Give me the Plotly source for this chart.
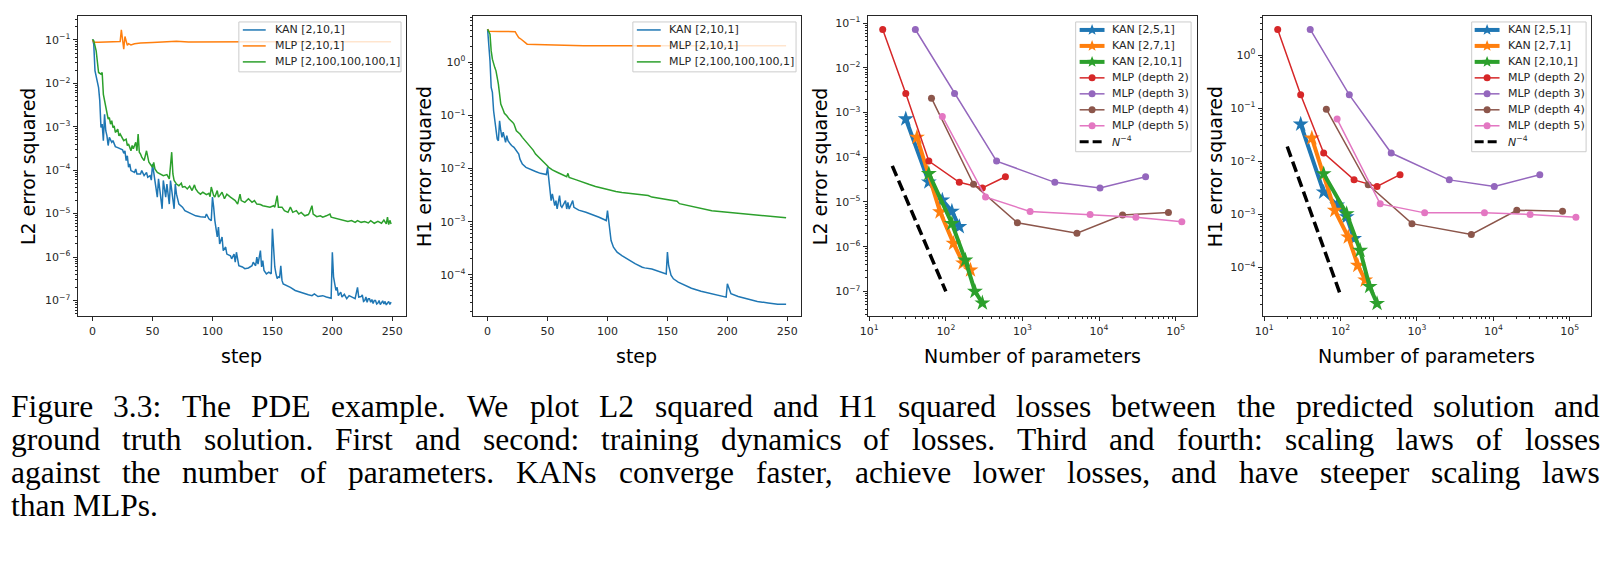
import plotly.graph_objects as go

# ---------------- data ----------------
# Panel 1: L2 error squared vs training step
l2_kan_steps = [0, 1, 2, 4, 5, 6, 7, 8, 9, 10, 11, 12, 13, 14, 16, 17, 19, 21, 23, 25, 26, 27, 28, 29, 30,
                31, 32, 35, 36, 37, 40, 41, 43, 45, 46, 48, 49, 50, 51, 53, 54, 55, 57, 58, 59, 61, 62, 64,
                65, 67, 68, 69, 70, 72, 75, 77, 82, 86, 90, 94, 95, 97, 99, 100, 101, 102, 104, 105, 106,
                108, 109, 111, 112, 115, 116, 118, 119, 120, 122, 125, 127, 130, 133, 134, 136, 137, 138,
                140, 141, 142, 143, 145, 147, 149, 150, 151, 152, 153, 154, 155, 156, 157, 158, 159, 162,
                165, 169, 173, 177, 180, 183, 185, 188, 192, 195, 199, 200, 201, 202, 203, 204, 205, 207,
                208, 210, 212, 214, 217, 219, 221, 222, 224, 225, 226, 227, 228, 229, 230, 231, 232, 233,
                234, 235, 236, 237, 238, 239, 240, 241, 242, 243, 244, 245, 246, 247, 248, 249]
l2_kan = [0.103, 0.079, 0.0195, 0.0114, 0.0080, 0.0040, 9.6e-4, 1.15e-3, 4.8e-4, 1.95e-3, 8.1e-4, 6.2e-4,
          3.7e-4, 5.7e-4, 4.4e-4, 4.8e-4, 3.5e-4, 3.3e-4, 3.1e-4, 2.95e-4, 2.45e-4, 2.8e-4, 1.66e-4,
          2.15e-4, 1.17e-4, 1.39e-4, 9.8e-5, 8.9e-5, 1.07e-4, 8.2e-5, 8.2e-5, 9.8e-5, 7.5e-5, 8.9e-5,
          6.9e-5, 7.5e-5, 5.9e-5, 1.39e-4, 8.9e-5, 4.1e-5, 2.4e-5, 6.3e-5, 2.0e-5, 1.29e-5, 5.8e-5,
          2.4e-5, 4.8e-5, 1.66e-5, 5.8e-5, 2.0e-5, 1.29e-5, 4.8e-5, 2.8e-5, 1.66e-5, 1.41e-5, 1.17e-5,
          1.02e-5, 8.9e-6, 8.5e-6, 8.3e-6, 9.8e-6, 7.6e-6, 6.9e-6, 2.4e-5, 1.41e-5, 6.9e-6, 2.9e-6,
          4.9e-6, 2.0e-6, 2.9e-6, 1.41e-6, 1.70e-6, 1.17e-6, 1.07e-6, 9.1e-7, 1.17e-6, 7.6e-7, 1.29e-6,
          6.3e-7, 5.9e-7, 5.4e-7, 5.6e-7, 6.3e-7, 7.6e-7, 6.3e-7, 1.0e-6, 6.9e-7, 1.41e-6, 5.9e-7,
          8.3e-7, 4.9e-7, 4.1e-7, 4.5e-7, 4.1e-7, 4.5e-6, 1.17e-6, 5.9e-7, 4.1e-7, 3.2e-7, 3.5e-7,
          3.4e-7, 6.3e-7, 2.9e-7, 2.4e-7, 2.2e-7, 2.0e-7, 1.70e-7, 1.55e-7, 1.41e-7, 1.35e-7, 1.29e-7,
          1.41e-7, 1.23e-7, 1.29e-7, 1.20e-7, 1.12e-7, 1.29e-6, 3.5e-7, 2.4e-7, 1.70e-7, 2.0e-7,
          1.29e-7, 1.55e-7, 1.20e-7, 1.38e-7, 1.10e-7, 1.29e-7, 1.20e-7, 1.10e-7, 2.0e-7, 1.20e-7,
          1.23e-7, 1.35e-7, 9.5e-8, 1.0e-7, 1.2e-7, 9.1e-8, 1.10e-7, 1.1e-7, 9.1e-8, 1.05e-7, 8.5e-8,
          1.0e-7, 1.0e-7, 8.3e-8, 8.7e-8, 1.0e-7, 8.0e-8, 9.1e-8, 9.8e-8, 8.3e-8, 9.5e-8, 7.9e-8,
          8.7e-8, 9.5e-8, 8.1e-8, 9.1e-8]

l2_mlp_small_steps = [0, 1, 5, 10, 15, 20, 23, 24, 25, 26, 27, 28, 29, 30, 32, 35, 40, 50, 60, 70, 80, 100,
                      130, 160, 200, 249]
l2_mlp_small = [0.10, 0.088, 0.089, 0.090, 0.090, 0.091, 0.092, 0.17, 0.09, 0.061, 0.12, 0.095, 0.075,
                0.082, 0.077, 0.082, 0.085, 0.087, 0.089, 0.093, 0.090, 0.091, 0.091, 0.091, 0.091, 0.091]

l2_mlp_big_steps = [0, 1, 3, 4, 5, 7, 8, 9, 10, 11, 12, 13, 14, 15, 16, 17, 18, 19, 21, 22, 23, 25, 26, 28,
                    29, 30, 32, 33, 34, 36, 37, 38, 39, 40, 41, 43, 44, 45, 47, 48, 50, 51, 52, 54, 57, 59,
                    62, 64, 66, 67, 68, 70, 72, 74, 75, 77, 79, 81, 83, 85, 86, 88, 90, 92, 95, 97, 98, 99,
                    101, 102, 104, 105, 106, 108, 110, 112, 115, 117, 119, 120, 121, 123, 124, 127, 130,
                    133, 135, 137, 140, 142, 145, 148, 151, 152, 154, 155, 158, 160, 163, 165, 167, 170,
                    172, 174, 177, 180, 181, 183, 184, 187, 190, 192, 195, 198, 199, 202, 205, 207, 210,
                    213, 216, 219, 221, 224, 227, 230, 232, 235, 238, 241, 243, 245, 246, 247, 248, 249]
l2_mlp_big = [0.103, 0.095, 0.056, 0.033, 0.0178, 0.0163, 0.0178, 0.0056, 0.0040, 0.00278, 0.00195,
              0.00151, 0.00163, 0.00115, 0.00138, 9.6e-4, 1.05e-3, 7.4e-4, 8.8e-4, 6.2e-4, 6.8e-4, 5.2e-4,
              4.8e-4, 5.2e-4, 3.7e-4, 4.0e-4, 2.8e-4, 3.7e-4, 3.1e-4, 4.4e-4, 2.8e-4, 6.8e-4, 2.6e-4,
              2.35e-4, 2.0e-4, 1.66e-4, 2.15e-4, 2.8e-4, 1.52e-4, 1.39e-4, 1.17e-4, 1.52e-4, 1.07e-4,
              8.9e-5, 8.2e-5, 7.5e-5, 7.9e-5, 6.3e-5, 2.6e-4, 8.2e-5, 5.8e-5, 4.8e-5, 4.4e-5, 5.0e-5,
              4.1e-5, 4.2e-5, 3.7e-5, 4.3e-5, 3.4e-5, 4.6e-5, 3.7e-5, 3.1e-5, 2.8e-5, 3.1e-5, 2.75e-5,
              2.95e-5, 2.45e-5, 4.1e-5, 2.6e-5, 2.4e-5, 3.4e-5, 2.4e-5, 2.6e-5, 3.1e-5, 2.2e-5, 2.8e-5,
              2.4e-5, 2.2e-5, 2.0e-5, 1.82e-5, 1.66e-5, 2.8e-5, 2.0e-5, 1.82e-5, 2.2e-5, 1.82e-5, 2.0e-5,
              1.66e-5, 1.62e-5, 1.52e-5, 1.45e-5, 1.41e-5, 1.52e-5, 1.41e-5, 2.6e-5, 1.41e-5, 1.41e-5,
              1.17e-5, 1.07e-5, 1.41e-5, 1.07e-5, 1.17e-5, 9.8e-6, 1.07e-5, 8.9e-6, 9.5e-6, 1.07e-5,
              1.52e-5, 9.8e-6, 8.5e-6, 8.9e-6, 8.3e-6, 8.9e-6, 9.8e-6, 8.3e-6, 7.9e-6, 7.6e-6, 7.3e-6,
              6.9e-6, 6.6e-6, 6.9e-6, 6.3e-6, 6.9e-6, 6.3e-6, 6.6e-6, 6.1e-6, 6.9e-6, 6.0e-6, 6.6e-6,
              6.0e-6, 7.1e-6, 5.8e-6, 8.3e-6, 5.6e-6, 7.0e-6, 5.8e-6]

# Panel 2: H1 error squared vs training step
h1_kan_steps = [0, 2, 3, 4, 5, 7, 8, 9, 10, 11, 12, 13, 15, 16, 17, 19, 20, 22, 23, 25, 26, 27, 29, 32, 36,
                40, 44, 49, 50, 51, 52, 53, 54, 55, 56, 57, 58, 60, 61, 62, 64, 65, 66, 67, 68, 70, 71, 72,
                76, 82, 87, 93, 99, 100, 101, 102, 103, 105, 108, 112, 118, 123, 129, 131, 137, 140, 144,
                149, 150, 151, 153, 155, 159, 165, 170, 178, 187, 195, 199, 200, 202, 203, 209, 217, 225,
                234, 242, 249]
h1_kan = [4.17, 1.06, 0.334, 0.27, 0.122, 0.0513, 0.036, 0.0333, 0.079, 0.0513, 0.0385, 0.048, 0.031,
          0.0415, 0.0333, 0.0288, 0.027, 0.025, 0.023, 0.020, 0.0187, 0.015, 0.0121, 0.0105, 0.0095,
          0.0088, 0.0081, 0.0077, 0.0105, 0.0068, 0.00384, 0.00249, 0.00332, 0.0023, 0.0020, 0.00249,
          0.00173, 0.0031, 0.0020, 0.00186, 0.0023, 0.00249, 0.00173, 0.0023, 0.00173, 0.0023, 0.00249,
          0.00186, 0.00165, 0.0015, 0.00137, 0.00121, 0.00105, 0.00161, 0.00105, 6.8e-4, 4.4e-4, 3.3e-4,
          2.67e-4, 2.3e-4, 1.86e-4, 1.62e-4, 1.39e-4, 1.35e-4, 1.29e-4, 1.22e-4, 1.17e-4, 1.04e-4,
          2.67e-4, 1.5e-4, 9.8e-5, 8.4e-5, 7.3e-5, 6.3e-5, 5.6e-5, 4.9e-5, 4.4e-5, 4.0e-5, 3.8e-5,
          6.8e-5, 4.9e-5, 4.4e-5, 3.9e-5, 3.5e-5, 3.16e-5, 2.95e-5, 2.8e-5, 2.78e-5]

h1_mlp_small_steps = [0, 1, 10, 20, 23, 24, 26, 28, 30, 33, 40, 57, 77, 80, 120, 249]
h1_mlp_small = [4.17, 3.8, 3.77, 3.77, 3.75, 3.4, 2.9, 2.7, 2.45, 2.18, 2.16, 2.12, 2.10, 2.04, 2.03, 2.03]

h1_mlp_big_steps = [0, 2, 3, 4, 6, 7, 9, 10, 11, 13, 14, 16, 18, 21, 22, 24, 27, 29, 32, 35, 38, 40, 43, 46,
                    49, 51, 54, 58, 62, 66, 67, 68, 74, 79, 85, 90, 96, 101, 107, 112, 118, 123, 129, 134,
                    137, 148, 158, 160, 173, 187, 200, 214, 228, 239, 249]
h1_mlp_big = [4.17, 3.36, 1.63, 1.14, 0.79, 0.687, 0.386, 0.233, 0.163, 0.126, 0.109, 0.098, 0.085, 0.0736,
              0.0685, 0.0513, 0.0445, 0.0385, 0.0324, 0.0268, 0.0222, 0.0187, 0.0162, 0.014, 0.0118,
              0.0105, 0.0094, 0.0085, 0.0077, 0.0070, 0.0081, 0.0068, 0.0061, 0.0055, 0.0050, 0.0046,
              0.00425, 0.00395, 0.0037, 0.00355, 0.00342, 0.0034, 0.00325, 0.0031, 0.0029, 0.0026,
              0.00242, 0.00218, 0.00186, 0.00161, 0.0015, 0.0014, 0.0013, 0.00125, 0.00118]

# Panels 3 and 4: loss vs number of parameters
kan251_n = [30, 60, 90, 120, 150]
kan251_l2 = [7.2e-4, 2.8e-5, 1.1e-5, 6.2e-6, 2.8e-6]
kan251_h1 = [0.05, 2.63e-3, 1.5e-3, 9.0e-4, 3.5e-4]
kan271_n = [42, 84, 126, 168, 210]
kan271_l2 = [2.8e-4, 6.0e-6, 1.19e-6, 4.3e-7, 3.0e-7]
kan271_h1 = [0.0274, 1.19e-3, 3.76e-4, 1.1e-4, 5.8e-5]
kan2101_n = [60, 120, 180, 240, 300]
kan2101_l2 = [4.3e-5, 3.3e-6, 5.0e-7, 1.0e-7, 5.5e-8]
kan2101_h1 = [5.8e-3, 1.03e-3, 2.1e-4, 4.4e-5, 2.1e-5]

mlp_d2_n = [15, 30, 60, 150, 300, 600]
mlp_d3_n = [40, 130, 460, 2650, 10300, 40600]
mlp_d4_n = [65, 230, 860, 5150, 20300, 80600]
mlp_d5_n = [90, 330, 1260, 7650, 30300, 120600]
mlp_d2_l2 = [0.072, 2.67e-3, 8.2e-5, 2.75e-5, 2.06e-5, 3.67e-5]
mlp_d3_l2 = [0.072, 2.67e-3, 8.2e-5, 2.75e-5, 2.06e-5, 3.67e-5]
mlp_d4_l2 = [2.1e-3, 2.48e-5, 3.42e-6, 2.0e-6, 5.1e-6, 5.8e-6]
mlp_d5_l2 = [8.2e-4, 1.3e-5, 6.1e-6, 5.25e-6, 4.57e-6, 3.6e-6]
mlp_d2_h1 = [3.03, 0.178, 0.0143, 0.00447, 0.00335, 0.0056]
mlp_d3_h1 = [3.03, 0.178, 0.0143, 0.00447, 0.00335, 0.0056]
mlp_d4_h1 = [0.0958, 0.0036, 6.7e-4, 4.2e-4, 1.2e-3, 1.15e-3]
mlp_d5_h1 = [0.0622, 1.58e-3, 1.07e-3, 1.07e-3, 1.0e-3, 8.8e-4]

ref_n = [20, 100]
ref_l2 = [6.4e-5, 1.0e-7]
ref_h1 = [1.9e-2, 3.0e-5]

# tick labels
step_ticks = [0, 50, 100, 150, 200, 250]
l2_tickvals = [1e-7, 1e-6, 1e-5, 1e-4, 1e-3, 1e-2, 1e-1]
l2_ticktext = ["10<sup>−7</sup>", "10<sup>−6</sup>", "10<sup>−5</sup>", "10<sup>−4</sup>",
               "10<sup>−3</sup>", "10<sup>−2</sup>", "10<sup>−1</sup>"]
h1_tickvals = [1e-4, 1e-3, 1e-2, 1e-1, 1e0]
h1_ticktext = ["10<sup>−4</sup>", "10<sup>−3</sup>", "10<sup>−2</sup>", "10<sup>−1</sup>", "10<sup>0</sup>"]
n_tickvals = [1e1, 1e2, 1e3, 1e4, 1e5]
n_ticktext = ["10<sup>1</sup>", "10<sup>2</sup>", "10<sup>3</sup>", "10<sup>4</sup>", "10<sup>5</sup>"]

legend_train = ["KAN [2,10,1]", "MLP [2,10,1]", "MLP [2,100,100,100,1]"]
legend_scale = ["KAN [2,5,1]", "KAN [2,7,1]", "KAN [2,10,1]", "MLP (depth 2)", "MLP (depth 3)",
                "MLP (depth 4)", "MLP (depth 5)", "<i>N</i><sup>−4</sup>"]

caption_lines = [
    "Figure 3.3: The PDE example. We plot L2 squared and H1 squared losses between the predicted solution and",
    "ground truth solution. First and second: training dynamics of losses. Third and fourth: scaling laws of losses",
    "against the number of parameters. KANs converge faster, achieve lower losses, and have steeper scaling laws",
    "than MLPs.",
]

# ---------------- styling / layout ----------------
W, H = 1607, 561
BLUE, ORANGE, GREEN = "#1f77b4", "#ff7f0e", "#2ca02c"
RED, PURPLE, BROWN, PINK = "#d62728", "#9467bd", "#8c564b", "#e377c2"
AX = "#262626"
SANS = "DejaVu Sans"


def px(x):
    return x / W


def py(y):
    return 1 - y / H


fig = go.Figure()


def line_trace(x, y, color, xa, ya, width=1.5):
    fig.add_trace(go.Scatter(x=x, y=y, mode="lines", line=dict(color=color, width=width),
                             xaxis=xa, yaxis=ya, showlegend=False, hoverinfo="skip"))


# panel 1
line_trace(l2_kan_steps, l2_kan, BLUE, "x", "y")
line_trace(l2_mlp_small_steps, l2_mlp_small, ORANGE, "x", "y")
line_trace(l2_mlp_big_steps, l2_mlp_big, GREEN, "x", "y")
# panel 2
line_trace(h1_kan_steps, h1_kan, BLUE, "x2", "y2")
line_trace(h1_mlp_small_steps, h1_mlp_small, ORANGE, "x2", "y2")
line_trace(h1_mlp_big_steps, h1_mlp_big, GREEN, "x2", "y2")


def scaling_panel(xa, ya, kans, mlps, ref):
    for n, v, c in kans:
        fig.add_trace(go.Scatter(x=n, y=v, mode="lines+markers", line=dict(color=c, width=4),
                                 marker=dict(symbol="star", size=12, color=c, line=dict(width=0)),
                                 xaxis=xa, yaxis=ya, showlegend=False, hoverinfo="skip"))
    for n, v, c in mlps:
        fig.add_trace(go.Scatter(x=n, y=v, mode="lines+markers", line=dict(color=c, width=1.5),
                                 marker=dict(symbol="circle", size=7, color=c, line=dict(width=0)),
                                 xaxis=xa, yaxis=ya, showlegend=False, hoverinfo="skip"))
    fig.add_trace(go.Scatter(x=ref[0], y=ref[1], mode="lines",
                             line=dict(color="black", width=3.5, dash="11px,5px"),
                             xaxis=xa, yaxis=ya, showlegend=False, hoverinfo="skip"))


scaling_panel("x3", "y3",
              [(kan251_n, kan251_l2, BLUE), (kan271_n, kan271_l2, ORANGE), (kan2101_n, kan2101_l2, GREEN)],
              [(mlp_d2_n, mlp_d2_l2, RED), (mlp_d3_n, mlp_d3_l2, PURPLE), (mlp_d4_n, mlp_d4_l2, BROWN),
               (mlp_d5_n, mlp_d5_l2, PINK)],
              (ref_n, ref_l2))
scaling_panel("x4", "y4",
              [(kan251_n, kan251_h1, BLUE), (kan271_n, kan271_h1, ORANGE), (kan2101_n, kan2101_h1, GREEN)],
              [(mlp_d2_n, mlp_d2_h1, RED), (mlp_d3_n, mlp_d3_h1, PURPLE), (mlp_d4_n, mlp_d4_h1, BROWN),
               (mlp_d5_n, mlp_d5_h1, PINK)],
              (ref_n, ref_h1))

base = dict(showline=True, linecolor=AX, linewidth=1, mirror=True, ticks="outside", ticklen=4,
            tickwidth=1, tickcolor=AX, showgrid=False, zeroline=False,
            tickfont=dict(family=SANS, size=11, color=AX))


def minor_vals(lo, hi):
    return [m * 10.0 ** k for k in range(lo, hi) for m in range(2, 10)]


def minor(lo, hi):
    return dict(ticks="outside", ticklen=2, tickwidth=0.8, tickcolor=AX, tickmode="array",
                tickvals=minor_vals(lo, hi), showgrid=False)


ydom = [py(316), py(15)]
panels_x = [(70, 400), (467, 797), (864, 1195), (1261, 1591)]

fig.update_layout(
    xaxis=dict(base, domain=[px(70), px(400)], range=[-12.45, 261.45], tickmode="array",
               tickvals=step_ticks, anchor="y"),
    yaxis=dict(base, domain=ydom, type="log", range=[-7.368, -0.448], tickmode="array",
               tickvals=l2_tickvals, ticktext=l2_ticktext, minor=minor(-8, 0), anchor="x"),
    xaxis2=dict(base, domain=[px(467), px(797)], range=[-12.45, 261.45], tickmode="array",
                tickvals=step_ticks, anchor="y2"),
    yaxis2=dict(base, domain=ydom, type="log", range=[-4.783, 0.869], tickmode="array",
                tickvals=h1_tickvals, ticktext=h1_ticktext, minor=minor(-5, 1), anchor="x2"),
    xaxis3=dict(base, domain=[px(864), px(1195)], type="log", range=[0.98, 5.28], tickmode="array",
                tickvals=n_tickvals, ticktext=n_ticktext, minor=minor(1, 6), anchor="y3"),
    yaxis3=dict(base, domain=ydom, type="log", range=[-7.56, -0.84], tickmode="array",
                tickvals=l2_tickvals, ticktext=l2_ticktext, minor=minor(-8, 0), anchor="x3"),
    xaxis4=dict(base, domain=[px(1261), px(1591)], type="log", range=[0.98, 5.28], tickmode="array",
                tickvals=n_tickvals, ticktext=n_ticktext, minor=minor(1, 6), anchor="y4"),
    yaxis4=dict(base, domain=ydom, type="log", range=[-4.92, 0.735], tickmode="array",
                tickvals=h1_tickvals, ticktext=h1_ticktext, minor=minor(-5, 1), anchor="x4"),
)

shapes = []
annotations = []

# axis titles
ytitles = [("L2 error squared", 20), ("H1 error squared", 418), ("L2 error squared", 816),
           ("H1 error squared", 1213)]
for t, xc in ytitles:
    annotations.append(dict(text=t, x=px(xc), y=py(165.5), xref="paper", yref="paper", showarrow=False,
                            textangle=-90, xanchor="center", yanchor="middle",
                            font=dict(family=SANS, size=19, color="black")))
xtitles = ["step", "step", "Number of parameters", "Number of parameters"]
for t, (l, r) in zip(xtitles, panels_x):
    annotations.append(dict(text=t, x=px((l + r) / 2), y=py(356), xref="paper", yref="paper",
                            showarrow=False, xanchor="center", yanchor="middle",
                            font=dict(family=SANS, size=19, color="black")))


def star_path(R=6.0, r=2.5):
    import math
    pts = []
    for i in range(10):
        a = math.radians(90 + 36 * i)
        rr = R if i % 2 == 0 else r
        pts.append((rr * math.cos(a), rr * math.sin(a)))
    return "M " + " L ".join(f"{x:.2f},{y:.2f}" for x, y in pts) + " Z"


def legend(box, rows, sx0, sx1, tx, items):
    x0, y0, x1, y1 = box
    shapes.append(dict(type="rect", xref="paper", yref="paper", x0=px(x0), x1=px(x1), y0=py(y1), y1=py(y0),
                       fillcolor="rgba(255,255,255,0.8)", line=dict(color="#cccccc", width=1), layer="above"))
    for (label, color, lw, mk, dash), y in zip(items, rows):
        shapes.append(dict(type="line", xref="paper", yref="paper", x0=px(sx0), x1=px(sx1), y0=py(y), y1=py(y),
                           line=dict(color=color, width=lw, dash=dash), layer="above"))
        cx = (sx0 + sx1) / 2
        if mk == "star":
            shapes.append(dict(type="path", xref="paper", yref="paper", xsizemode="pixel", ysizemode="pixel",
                               xanchor=px(cx), yanchor=py(y), path=star_path(), fillcolor=color,
                               line=dict(width=0), layer="above"))
        elif mk == "circle":
            shapes.append(dict(type="circle", xref="paper", yref="paper", xsizemode="pixel", ysizemode="pixel",
                               xanchor=px(cx), yanchor=py(y), x0=-3.5, x1=3.5, y0=-3.5, y1=3.5,
                               fillcolor=color, line=dict(width=0), layer="above"))
        annotations.append(dict(text=label, x=px(tx), y=py(y), xref="paper", yref="paper", showarrow=False,
                                xanchor="left", yanchor="middle", borderpad=0,
                                font=dict(family=SANS, size=11, color=AX)))


train_items = [(legend_train[0], BLUE, 1.5, None, "solid"), (legend_train[1], ORANGE, 1.5, None, "solid"),
               (legend_train[2], GREEN, 1.5, None, "solid")]
legend((232, 21, 395, 71), [29, 45, 61], 236, 259, 267, train_items)
legend((628, 21, 792, 71), [29, 45, 61], 632, 656, 663, train_items)

scale_items = [(legend_scale[0], BLUE, 4, "star", "solid"), (legend_scale[1], ORANGE, 4, "star", "solid"),
               (legend_scale[2], GREEN, 4, "star", "solid"), (legend_scale[3], RED, 1.5, "circle", "solid"),
               (legend_scale[4], PURPLE, 1.5, "circle", "solid"), (legend_scale[5], BROWN, 1.5, "circle", "solid"),
               (legend_scale[6], PINK, 1.5, "circle", "solid"), (legend_scale[7], "black", 3, None, "9px,4px")]
rows8 = [29, 45, 61, 77, 93, 109, 125, 141]
legend((1073, 21, 1189, 151), rows8, 1077, 1102, 1109, scale_items)
legend((1471, 21, 1586, 151), rows8, 1474, 1499, 1506, scale_items)

# caption, justified like the LaTeX original (word placement uses Times-compatible advance widths)
TIMES = {" ": 250, ",": 250, ".": 250, ":": 278, "0": 500, "1": 500, "2": 500, "3": 500,
         "A": 722, "D": 722, "E": 611, "F": 556, "H": 722, "K": 722, "L": 611, "M": 889, "N": 722,
         "P": 556, "T": 611, "W": 944,
         "a": 444, "b": 500, "c": 444, "d": 500, "e": 444, "f": 333, "g": 500, "h": 500, "i": 278,
         "k": 500, "l": 278, "m": 778, "n": 500, "o": 500, "p": 500, "q": 500, "r": 333, "s": 389,
         "t": 278, "u": 500, "v": 500, "w": 722, "x": 500, "y": 500}
CAP_FS = 31.5
CAP_L, CAP_R = 3, 1600
cap_rows = [406, 439, 472, 505]


def tw(s):
    return sum(TIMES.get(c, 500) for c in s) / 1000 * CAP_FS


for i, (line, yc) in enumerate(zip(caption_lines, cap_rows)):
    words = line.split(" ")
    if i < len(caption_lines) - 1:
        gap = (CAP_R - CAP_L - sum(tw(w) for w in words)) / (len(words) - 1)
    else:
        gap = tw(" ") * 1.12
    xcur = CAP_L
    for w in words:
        annotations.append(dict(text=w, x=px(xcur + tw(w) / 2), y=py(yc), xref="paper", yref="paper",
                                showarrow=False, xanchor="center", yanchor="middle", borderpad=0,
                                font=dict(family="Liberation Serif", size=CAP_FS, color="black")))
        xcur += tw(w) + gap

fig.update_layout(width=W, height=H, margin=dict(l=0, r=0, t=0, b=0), paper_bgcolor="white",
                  plot_bgcolor="white", showlegend=False, shapes=shapes, annotations=annotations)

# remove the browser's default 8px page margin so the figure sits at the window origin
fig.write_html("out.html", config={"displayModeBar": False},
               post_script="document.body.style.margin='0px';")
